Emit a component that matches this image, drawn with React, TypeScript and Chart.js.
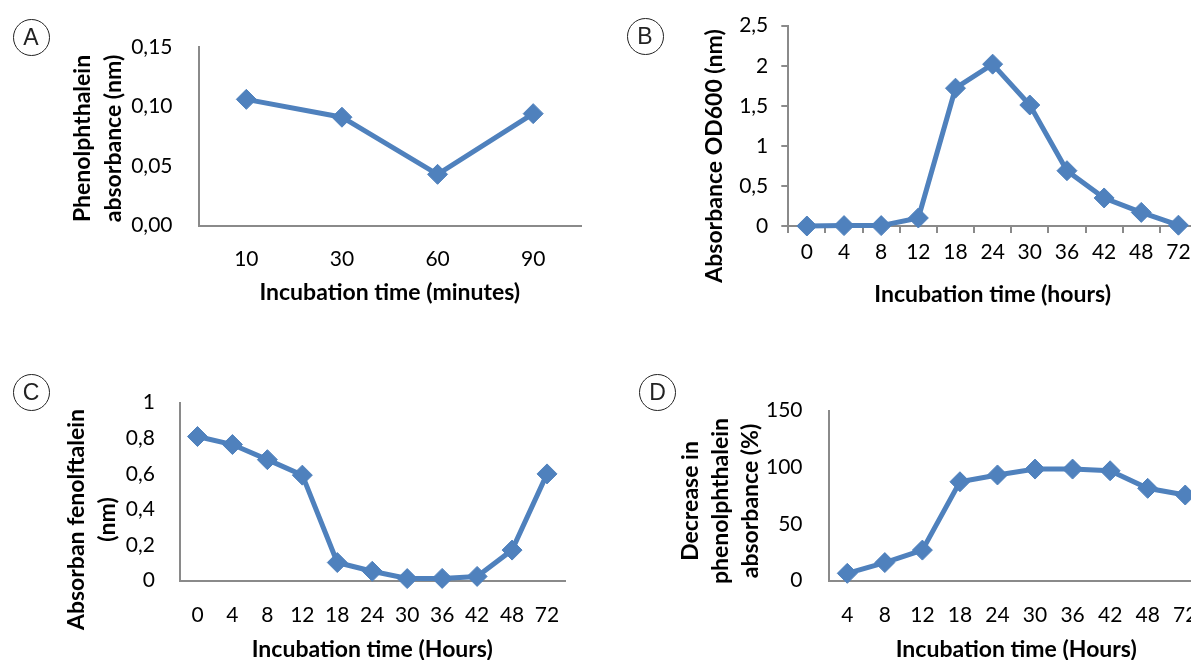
import React, { useEffect, useRef } from "react";
import { Chart, registerables } from "chart.js";

Chart.register(...registerables);

// ---------- data ----------
const catsA = ["10", "30", "60", "90"];
const valsA = [0.106, 0.091, 0.043, 0.094];
const yTicksA = ["0,00", "0,05", "0,10", "0,15"];

const catsB = ["0", "4", "8", "12", "18", "24", "30", "36", "42", "48", "72"];
const valsB = [0, 0.005, 0.005, 0.1, 1.72, 2.02, 1.51, 0.69, 0.35, 0.17, 0.01];
const yTicksB = ["0", "0,5", "1", "1,5", "2", "2,5"];

const catsC = ["0", "4", "8", "12", "18", "24", "30", "36", "42", "48", "72"];
const valsC = [0.81, 0.765, 0.68, 0.593, 0.102, 0.053, 0.012, 0.013, 0.024, 0.172, 0.6];
const yTicksC = ["0", "0,2", "0,4", "0,6", "0,8", "1"];

const catsD = ["4", "8", "12", "18", "24", "30", "36", "42", "48", "72"];
const valsD = [6.5, 16, 27, 87.3, 93.3, 98.5, 98.5, 97, 81.5, 75.6];
const yTicksD = ["0", "50", "100", "150"];

// ---------- styles ----------
const BLUE = "#4F81BD";
const AXIS = "#8a8a8a";
const FONT = "Lato, 'Open Sans', sans-serif";
const TICK_SIZE = 21;
const TITLE_SIZE = 23;

const titlePlugin = {
  id: "panelTitles",
  afterDraw(chart: any, _args: any, opts: any) {
    if (!opts || !opts.yLines) return;
    const ctx = chart.ctx;
    ctx.save();
    ctx.fillStyle = "#000";
    ctx.font = `bold ${TITLE_SIZE}px ${FONT}`;
    ctx.textAlign = "center";
    ctx.textBaseline = "middle";
    opts.yLines.forEach((line: string, i: number) => {
      ctx.save();
      ctx.translate(opts.yX[i], opts.yCY);
      ctx.rotate(-Math.PI / 2);
      ctx.fillText(line, 0, 0);
      ctx.restore();
    });
    const a = chart.chartArea;
    ctx.fillText(opts.xText, (a.left + a.right) / 2, opts.xY);
    ctx.restore();
  },
};

const PANELS = [
  {
    key: "A", left: 0, top: 0, w: 600, h: 330,
    area: { l: 198.5, r: 581, t: 47, b: 225.5 },
    cats: catsA, vals: valsA, yLabels: yTicksA, yMax: 0.15, step: 0.05,
    marks: false, yPad: 19, xPad: 14,
    yLines: ["Phenolphthalein", "absorbance (nm)"], yX: [83, 114], yCY: 138.5,
    xText: "Incubation time (minutes)", xY: 293,
    circle: { x: 31, y: 37.5 },
  },
  {
    key: "B", left: 600, top: 0, w: 620, h: 330,
    area: { l: 188.3, r: 597, t: 25.7, b: 226 },
    cats: catsB, vals: valsB, yLabels: yTicksB, yMax: 2.5, step: 0.5,
    marks: true, yPad: 13, xPad: 7,
    yLines: ["Absorbance OD600 (nm)"], yX: [115], yCY: 156,
    xText: "Incubation time (hours)", xY: 295,
    circle: { x: 645, y: 36.7 },
  },
  {
    key: "C", left: 0, top: 360, w: 600, h: 300,
    area: { l: 180, r: 564.5, t: 42.7, b: 220.7 },
    cats: catsC, vals: valsC, yLabels: yTicksC, yMax: 1, step: 0.2,
    marks: false, yPad: 18, xPad: 15,
    yLines: ["Absorban fenolftalein", "(nm)"], yX: [77, 108], yCY: 159.5,
    xText: "Incubation time (Hours)", xY: 290,
    circle: { x: 31, y: 392 },
  },
  {
    key: "D", left: 600, top: 360, w: 620, h: 300,
    area: { l: 228.5, r: 604, t: 50.7, b: 220.7 },
    cats: catsD, vals: valsD, yLabels: yTicksD, yMax: 150, step: 50,
    marks: false, yPad: 19, xPad: 15,
    yLines: ["Decrease in", "phenolphthalein", "absorbance (%)"], yX: [90.5, 120.6, 150.8], yCY: 141,
    xText: "Incubation time (Hours)", xY: 290,
    circle: { x: 657.5, y: 392.5 },
  },
];

function Panel({ cfg }: { cfg: any }) {
  const ref = useRef<HTMLCanvasElement | null>(null);
  useEffect(() => {
    if (!ref.current) return;
    const a = cfg.area;
    const gridOpts = {
      display: cfg.marks,
      offset: true,
      drawOnChartArea: false,
      drawTicks: true,
      tickLength: 7,
      color: AXIS,
      lineWidth: 2,
    };
    const chart = new Chart(ref.current, {
      type: "line",
      data: {
        labels: cfg.cats,
        datasets: [
          {
            data: cfg.vals,
            borderColor: BLUE,
            backgroundColor: BLUE,
            borderWidth: 5,
            tension: 0,
            pointStyle: "rectRot",
            pointRadius: 10,
            pointBackgroundColor: BLUE,
            pointBorderColor: BLUE,
            pointBorderWidth: 1,
            clip: false,
          },
        ],
      },
      options: {
        animation: false,
        responsive: false,
        devicePixelRatio: 1,
        layout: { padding: { left: 0, top: a.t, right: cfg.w - a.r, bottom: 0 } },
        plugins: {
          legend: { display: false },
          tooltip: { enabled: false },
          panelTitles: {
            yLines: cfg.yLines,
            yX: cfg.yX,
            yCY: cfg.yCY,
            xText: cfg.xText,
            xY: cfg.xY,
          },
        } as any,
        scales: {
          x: {
            type: "category",
            offset: true,
            grid: { ...gridOpts },
            border: { display: true, color: AXIS, width: 2 },
            ticks: {
              padding: cfg.xPad,
              color: "#000",
              font: { family: FONT, size: TICK_SIZE },
              maxRotation: 0,
              autoSkip: false,
            },
            afterFit: (s: any) => {
              s.height = cfg.h - a.b;
            },
          },
          y: {
            type: "linear",
            min: 0,
            max: cfg.yMax,
            grid: { ...gridOpts, offset: false },
            border: { display: true, color: AXIS, width: 2 },
            ticks: {
              stepSize: cfg.step,
              padding: cfg.yPad,
              color: "#000",
              font: { family: FONT, size: TICK_SIZE },
              callback: (_v: any, i: number) => cfg.yLabels[i],
            },
            afterFit: (s: any) => {
              s.width = a.l;
            },
          },
        },
      } as any,
      plugins: [titlePlugin],
    });
    return () => chart.destroy();
  }, []);
  return (
    <canvas
      ref={ref}
      width={cfg.w}
      height={cfg.h}
      style={{ position: "absolute", left: cfg.left, top: cfg.top, width: cfg.w, height: cfg.h }}
    />
  );
}

function CircleLabel({ x, y, text }: { x: number; y: number; text: string }) {
  const d = 37;
  return (
    <div
      style={{
        position: "absolute",
        left: x - d / 2,
        top: y - d / 2,
        width: d,
        height: d,
        boxSizing: "border-box",
        border: "1px solid #222",
        borderRadius: "50%",
        display: "flex",
        alignItems: "center",
        justifyContent: "center",
        fontFamily: "'Liberation Sans', Arial, sans-serif",
        fontSize: 23,
        color: "#222",
        lineHeight: 1,
      }}
    >
      {text}
    </div>
  );
}

export default function App() {
  return (
    <div
      style={{
        position: "fixed",
        left: 0,
        top: 0,
        width: "100vw",
        height: "100vh",
        overflow: "hidden",
        background: "#fff",
      }}
    >
      {PANELS.map((p) => (
        <Panel key={p.key} cfg={p} />
      ))}
      {PANELS.map((p) => (
        <CircleLabel key={"c" + p.key} x={p.circle.x} y={p.circle.y} text={p.key} />
      ))}
    </div>
  );
}
